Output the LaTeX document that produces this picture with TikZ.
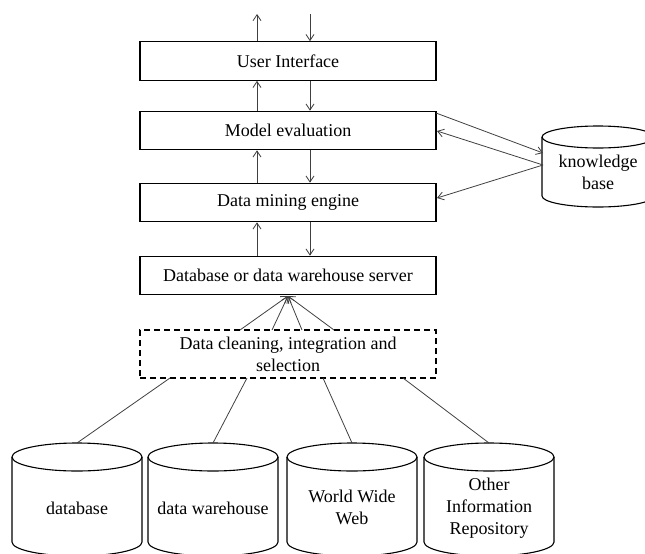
\documentclass[tikz,border=0pt]{standalone}
\usepackage{fontspec}
\setmainfont{Liberation Serif}
\usetikzlibrary{arrows.meta}
\newcommand{\drawcyl}[6]{% name, cx, ytop, rx, ry, ybottom-centre
  \coordinate (#1) at (#2,#3);
  \draw[cylline] (#2,#3+#5) ellipse [x radius=#4, y radius=#5];
  \draw[cylline] (#2-#4,#3+#5) -- (#2-#4,#6)
    .. controls (#2-#4,#6+0.5523*#5) and (#2-0.5523*#4,#6+#5) .. (#2,#6+#5)
    .. controls (#2+0.5523*#4,#6+#5) and (#2+#4,#6+0.5523*#5) .. (#2+#4,#6)
    -- (#2+#4,#3+#5);
}
\begin{document}
\begin{tikzpicture}[x=1pt,y=-1pt,
  every node/.style={font=\fontsize{18}{22}\selectfont},
  box/.style={draw, line width=1.2pt, minimum width=296pt, minimum height=38.5pt, inner sep=0pt},
  dashbox/.style={draw, line width=1.2pt, dash pattern=on 6pt off 4pt, minimum width=296pt, minimum height=48pt, inner sep=0pt, align=center},
  cylline/.style={line width=1.1pt},
  cyltext/.style={align=center, inner sep=0pt},
  arr/.style={draw=black!75, line width=0.8pt, -{Straight Barb[length=6pt,width=8pt]}},
  link/.style={draw=black!75, line width=0.8pt}
]
\useasboundingbox (0,0) rectangle (645,554);
\begin{scope}
\clip (0,0) rectangle (645,554);

% main boxes
\node[box] (ui) at (288,61) {User Interface};
\node[box] (me) at (288,130.5) {Model evaluation};
\node[box] (dme) at (288,202.5) {Data mining engine};
\node[box] (dbs) at (288,275.5) {Database or data warehouse server};
\node[dashbox, text depth=0pt] (clean) at (288,354) {Data cleaning, integration and\\selection};

% columns
\coordinate (L) at (257,0);
\coordinate (R) at (310,0);
\coordinate (outU) at (257,14);
\coordinate (inD) at (310,14);

% vertical arrows
\draw[arr] (ui.north -| L) -- (outU);
\draw[arr] (inD) -- (ui.north -| R);
\draw[arr] (me.north -| L) -- (ui.south -| L);
\draw[arr] (ui.south -| R) -- (me.north -| R);
\draw[arr] (dme.north -| L) -- (me.south -| L);
\draw[arr] (me.south -| R) -- (dme.north -| R);
\draw[arr] (dbs.north -| L) -- (dme.south -| L);
\draw[arr] (dme.south -| R) -- (dbs.north -| R);

% knowledge base
\drawcyl{kbtop}{598}{126}{56}{11}{196}
\node[cyltext] (kb) at (598,172) {knowledge\\base};
\coordinate (kbA) at (543,153);
\coordinate (kbB) at (543,165);
\coordinate (meA) at (436,113);
\coordinate (meB) at (437,131);
\coordinate (dmeB) at (437,198);
\draw[arr] (meA) -- (kbA);
\draw[arr] (kbB) -- (meB);
\draw[arr] (kbB) -- (dmeB);

% cleaning to server
\coordinate (hub) at (288,296);
\foreach \x/\n in {240/a,272/b,302/c,334/d}{
  \coordinate (c\n) at (\x,330);
  \draw[arr] (c\n) -- (hub);
}

% sources
\drawcyl{s1}{77}{443}{65}{14}{542}
\drawcyl{s2}{213}{443}{65}{14}{542}
\drawcyl{s3}{352}{443}{65}{14}{542}
\drawcyl{s4}{489}{443}{65}{14}{542}
\node[cyltext] (t1) at (77,508) {database};
\node[cyltext] (t2) at (213,508) {data warehouse};
\node[cyltext] (t3) at (352,507.5) {World Wide\\Web};
\node[cyltext] (t4) at (489,508) {Other\\Information\\Repository};

\coordinate (b1) at (170,378);
\coordinate (b2) at (247,378);
\coordinate (b3) at (323,378);
\coordinate (b4) at (403,378);
\draw[link] (b1) -- (s1);
\draw[link] (b2) -- (s2);
\draw[link] (b3) -- (s3);
\draw[link] (b4) -- (s4);
\end{scope}
\end{tikzpicture}
\end{document}
